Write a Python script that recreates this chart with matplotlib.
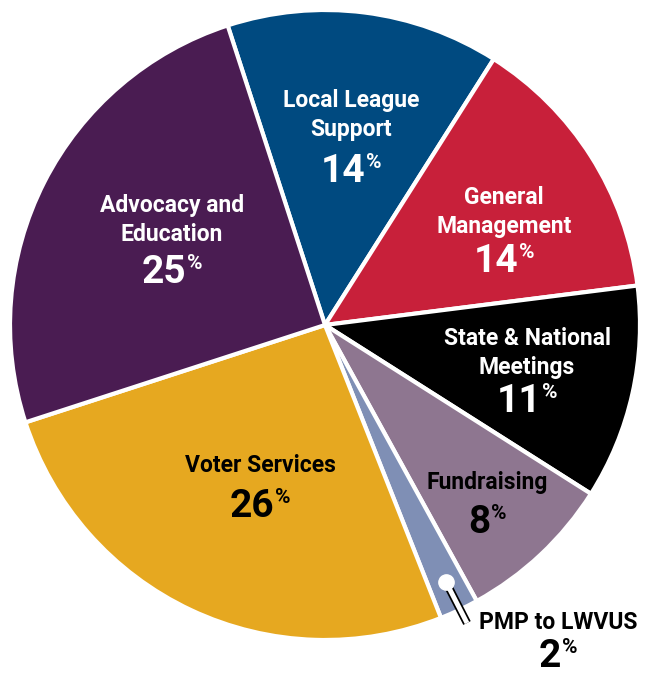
import matplotlib
matplotlib.use("Agg")
import matplotlib.pyplot as plt
import matplotlib.patheffects as pe

# slice data, clockwise from the top
labels = ["Local League\nSupport", "General\nManagement", "State & National\nMeetings",
          "Fundraising", "PMP to LWVUS", "Voter Services", "Advocacy and\nEducation"]
percents = [14, 14, 11, 8, 2, 26, 25]
colors = ["#004a80", "#c8203a", "#000000", "#8e7690", "#7f8fb5", "#e6a820", "#4a1c52"]
text_colors = ["white", "white", "white", "black", "black", "black", "white"]

# label positions in pixels: name (centre x, top y), number (centre x, baseline y)
name_pos = [(351, 89), (504, 186), (527, 327), (487, 471), (558, 611), (260, 454), (172, 194)]
num_pos = [(351, 182), (504, 272), (527, 412), (487, 533), (558, 667), (260, 517), (172, 283)]

W, H = 647, 675
FONT = ["Roboto", "DejaVu Sans"]

fig = plt.figure(figsize=(W / 100, H / 100), dpi=100)
ax = fig.add_axes([0, 0, 1, 1])

wedges, _ = ax.pie(percents, colors=colors, startangle=108, counterclock=False,
                   center=(325, H - 325), radius=315,
                   wedgeprops=dict(edgecolor="white", linewidth=3))
# pie resets the limits, so set pixel coords afterwards
ax.set_xlim(0, W)
ax.set_ylim(0, H)
ax.set_aspect("equal")
ax.axis("off")

# leader line for the small slice
ax.plot([446, 467], [H - 582, H - 623], color="white", linewidth=3.5, solid_capstyle="butt",
        path_effects=[pe.Stroke(linewidth=6, foreground="black"), pe.Normal()])
ax.plot([446], [H - 582], "o", color="white", markersize=11, markeredgecolor="white")

for i in range(len(labels)):
    c = text_colors[i]
    nx, ny = name_pos[i]
    ax.text(nx, H - ny, labels[i], ha="center", va="top", fontsize=16.5, fontweight="bold",
            color=c, family=FONT, linespacing=1.35)
    px, py = num_pos[i]
    t = ax.text(px - 8, H - py, str(percents[i]), ha="center", va="baseline", fontsize=28,
                fontweight="bold", color=c, family=FONT)
    # small raised percent sign next to the number
    ax.annotate("%", xy=(1.0, 1.0), xycoords=t, xytext=(0.5, 0), textcoords="offset points",
                ha="left", va="top", fontsize=15, fontweight="bold", color=c, family=FONT)

fig.savefig("out.png", dpi=100)
